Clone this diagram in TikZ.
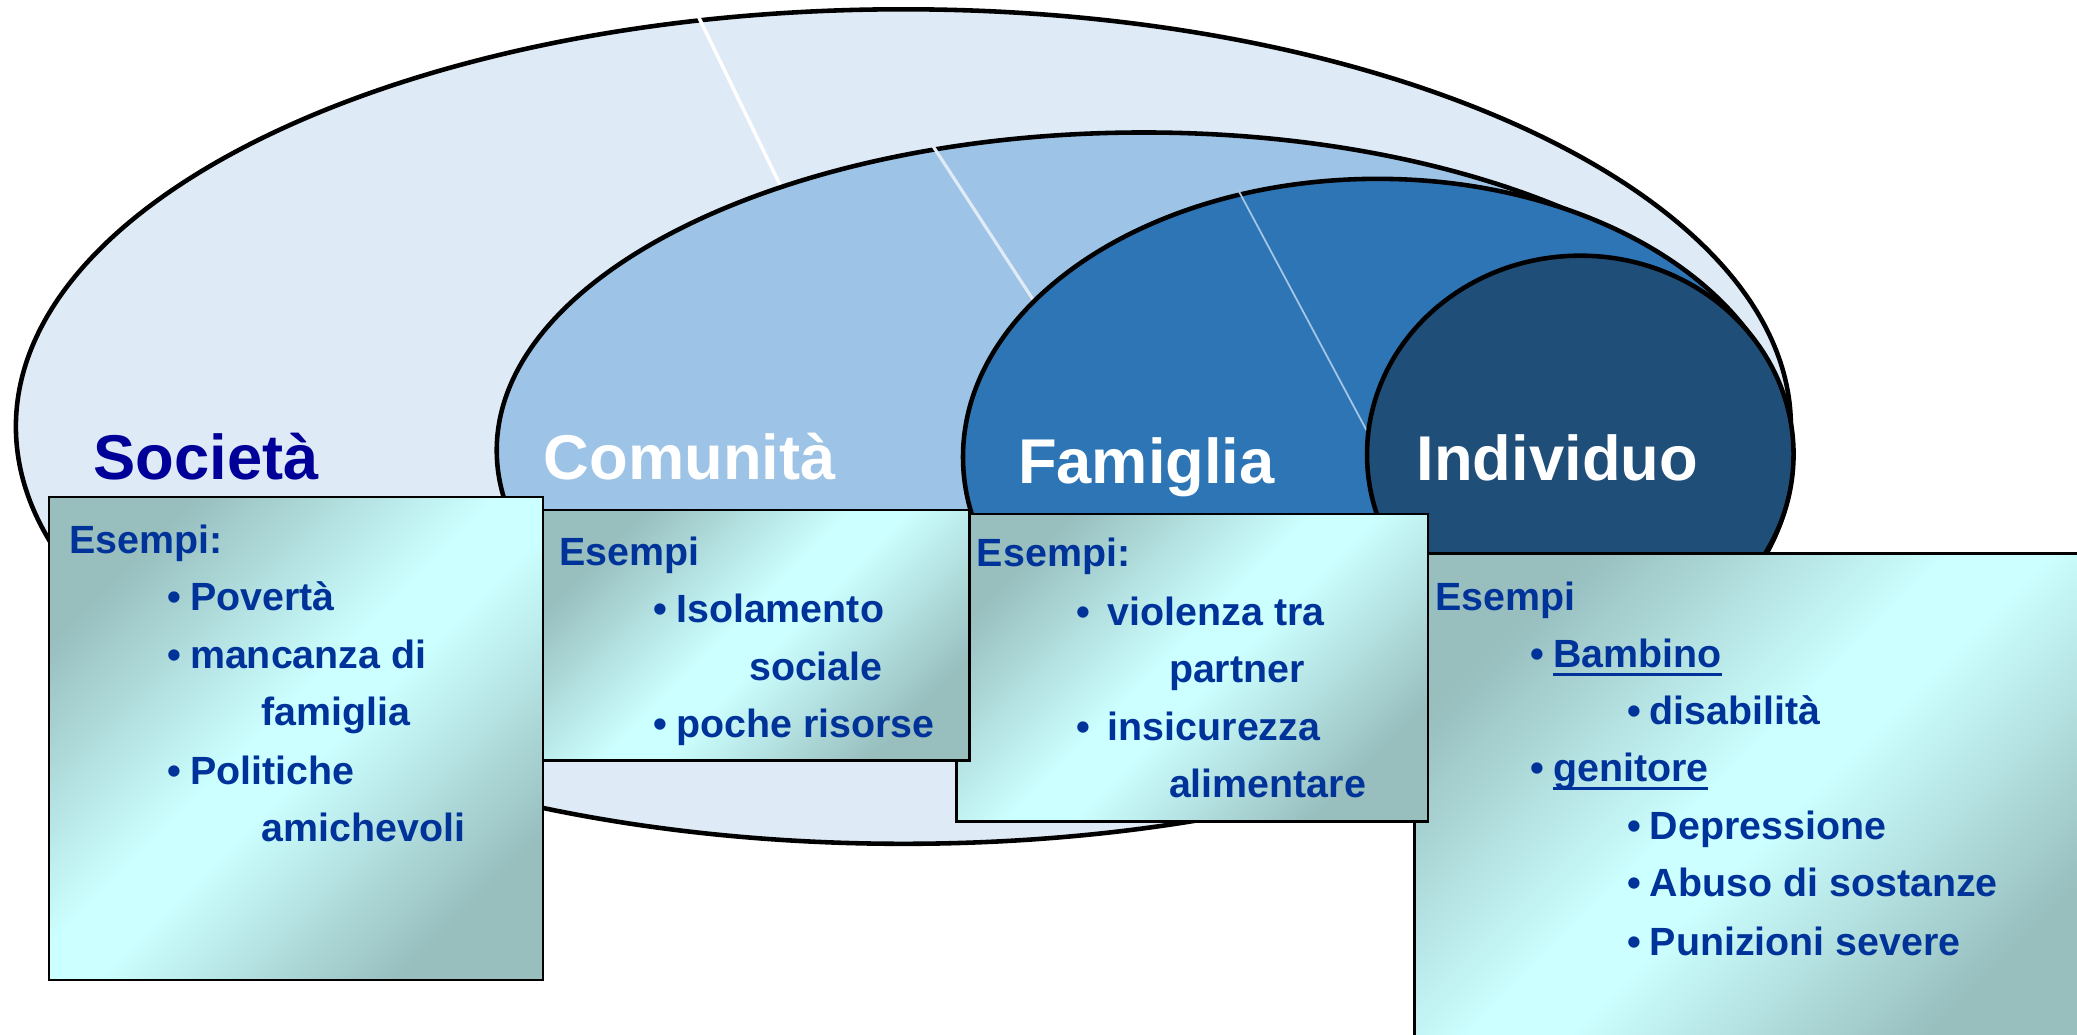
\documentclass[tikz,border=0pt]{standalone}
\usepackage{fontspec}
\setmainfont{Liberation Sans}
\usetikzlibrary{shadings}
\definecolor{socfill}{RGB}{222,234,246}
\definecolor{comfill}{RGB}{157,195,230}
\definecolor{famfill}{RGB}{46,117,182}
\definecolor{indfill}{RGB}{31,78,121}
\definecolor{boxdark}{RGB}{152,190,190}
\definecolor{boxlight}{RGB}{204,255,255}
\definecolor{txtblue}{RGB}{0,51,153}
\definecolor{socblue}{RGB}{0,0,153}
\definecolor{seamtwo}{RGB}{225,235,245}
\definecolor{seamthree}{RGB}{165,198,228}
\pgfdeclareverticalshading{boxshade}{100bp}{color(0bp)=(boxdark); color(25bp)=(boxdark); color(47bp)=(boxlight); color(53bp)=(boxlight); color(75bp)=(boxdark); color(100bp)=(boxdark)}
\newsavebox\ulbox
\newcommand{\ulx}[1]{\sbox\ulbox{#1}\rlap{\rule[-2.4pt]{\wd\ulbox}{0.8pt}}\usebox\ulbox}
\newcommand{\bul}[2][6.4pt]{\makebox[#1][l]{•}#2}
\tikzset{
  ring/.style={draw=black, line width=1.3pt},
  titletext/.style={anchor=base west, inner sep=0pt, font=\fontsize{18}{20}\selectfont\bfseries},
  extext/.style={anchor=base west, inner sep=0pt, font=\fontsize{11.2}{13}\selectfont\bfseries, text=txtblue},
  exbox/.style={draw=black, line width=0.7pt, shading=boxshade, shading angle=45},
  seam/.style={line width=1pt}
}
\begin{document}
\begin{tikzpicture}[x=0.013246cm, y=-0.013246cm]
\useasboundingbox (0,0) rectangle (1568,781);
\clip (0,0) rectangle (1568,781);
% nested ellipses
\path[ring, fill=socfill] (682,322) ellipse [x radius=670, y radius=315];
\draw[seam, white] (525.8,9.5) -- (592,146);
\path[ring, fill=comfill] (863.5,340) ellipse [x radius=488.5, y radius=240];
\draw[seam, seamtwo, line width=0.9pt] (703.5,109) -- (783,231);
\path[ring, fill=famfill] (1040,345) ellipse [x radius=313, y radius=210];
\draw[seam, seamthree, line width=0.5pt] (934,142) -- (1036,333);
\path[ring, fill=indfill] (1193,343) ellipse [x radius=161, y radius=150];
% titles
\node[titletext, text=socblue] (tsoc) at (70,362) {Società};
\node[titletext, text=white] (tcom) at (410,362) {Comunità};
\node[titletext, text=white] (tfam) at (768,365) {Famiglia};
\node[titletext, text=white] (tind) at (1069,363) {Individuo};
% example boxes (back to front)
\path[exbox] (1068,418) rectangle (1580,790);
\path[exbox] (722,388) rectangle (1078,620);
\path[exbox] (410,385) rectangle (732,574);
\path[exbox] (37,375) rectangle (410,740);
% box 4: Individuo
\node[extext] (i0) at (1083,461) {Esempi};
\node[extext] (i1) at (1155,504) {\bul{\ulx{Bambino}}};
\node[extext] (i2) at (1228,547) {\bul{disabilità}};
\node[extext] (i3) at (1155,590) {\bul{\ulx{genitore}}};
\node[extext] (i4) at (1228,634) {\bul{Depressione}};
\node[extext] (i5) at (1228,677) {\bul{Abuso di sostanze}};
\node[extext] (i6) at (1228,721) {\bul{Punizioni severe}};
% box 3: Famiglia
\node[extext] (f0) at (737,428) {Esempi:};
\node[extext] (f1) at (812,472) {\bul[9pt]{violenza tra}};
\node[extext] (f2) at (882,515) {partner};
\node[extext] (f3) at (812,559) {\bul[9pt]{insicurezza}};
\node[extext] (f4) at (882,602) {alimentare};
% box 2: Comunità
\node[extext] (c0) at (422,427) {Esempi};
\node[extext] (c1) at (493,470) {\bul{Isolamento}};
\node[extext] (c2) at (565,514) {sociale};
\node[extext] (c3) at (493,557) {\bul{poche risorse}};
% box 1: Società
\node[extext] (s0) at (52,418) {Esempi:};
\node[extext] (s1) at (126,461) {\bul{Povertà}};
\node[extext] (s2) at (126,505) {\bul{mancanza di}};
\node[extext] (s3) at (197,548) {famiglia};
\node[extext] (s4) at (126,592) {\bul{Politiche}};
\node[extext] (s5) at (197,635) {amichevoli};
\end{tikzpicture}
\end{document}
